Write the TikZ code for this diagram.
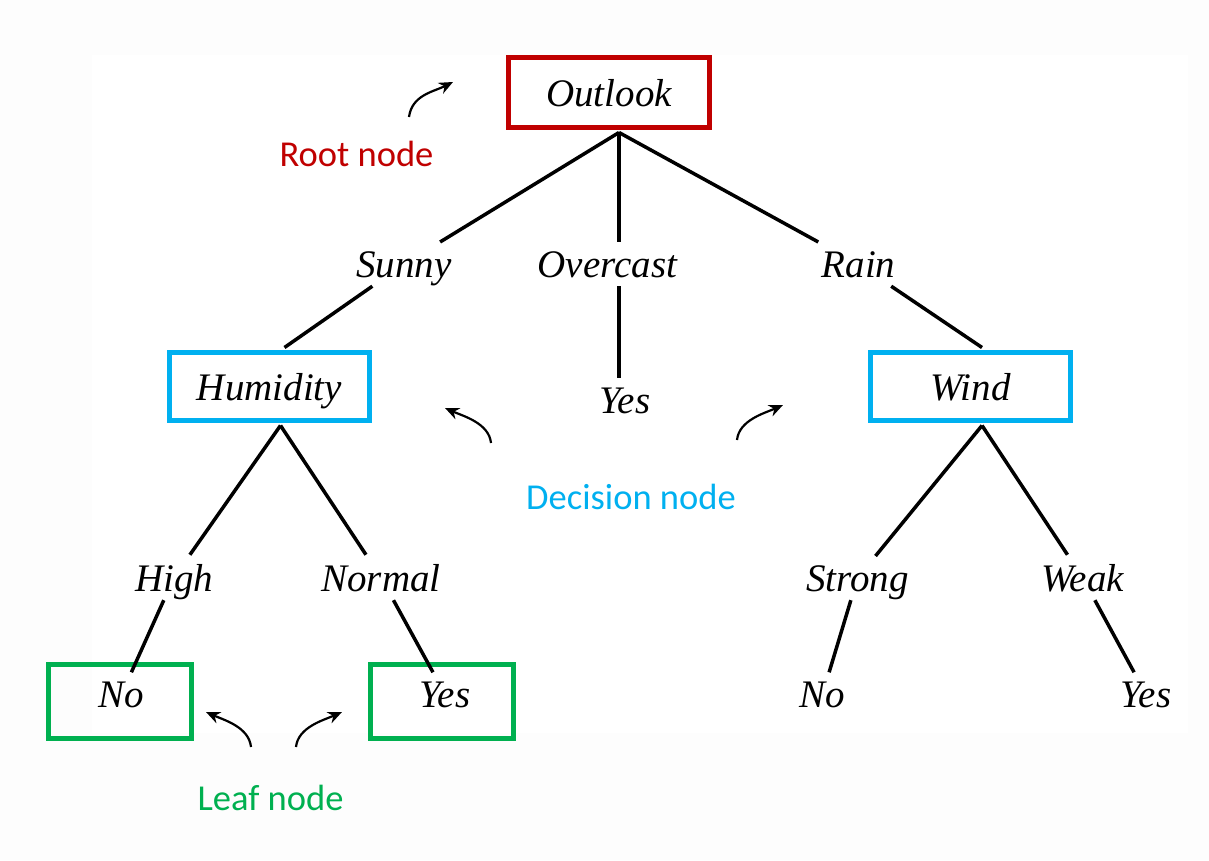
\documentclass[tikz,border=0pt]{standalone}
\usepackage{fontspec}
\usetikzlibrary{arrows.meta,calc}
\newfontfamily\tfont{Liberation Serif}
\newfontfamily\cfont{Carlito}
\definecolor{rootred}{HTML}{C00000}
\definecolor{decblue}{HTML}{00B0F0}
\definecolor{leafgreen}{HTML}{00B050}
\definecolor{marginc}{HTML}{FDFDFD}
\begin{document}
\begin{tikzpicture}[x=1pt,y=-1pt,
  treefont/.style={font=\tfont\itshape\fontsize{39}{47}\selectfont},
  lbl/.style={treefont, inner xsep=6pt, inner ysep=9pt, text depth=0pt, anchor=base},
  boxbase/.style={treefont, draw, line width=5pt, inner sep=0pt, text depth=0pt, minimum height=68pt, minimum width=200pt},
  rootbox/.style={boxbase, draw=rootred, minimum width=201pt, minimum height=70pt},
  decbox/.style={boxbase, draw=decblue},
  leafbox/.style={draw=leafgreen, line width=5pt, inner sep=0pt, minimum width=143pt, minimum height=74pt},
  edge/.style={line width=3.5pt, black},
  callout/.style={font=\cfont\fontsize{36.5}{44}\selectfont, anchor=base, inner sep=0pt},
  arr/.style={line width=2.2pt, -{Stealth[length=14pt,width=12pt]}}
]
\useasboundingbox (0,0) rectangle (1209,860);
\fill[marginc] (0,0) rectangle (1209,860);
\fill[white] (92,55) rectangle (1188,733);

% tree nodes
\node[rootbox] (outlook) at (609,92.5) {Outlook};
\node[decbox] (humidity) at (269.5,386.5) {Humidity};
\node[decbox] (wind) at (970.5,386.5) {Wind};
\node[leafbox] (nobox) at (120,701.5) {};
\node[leafbox] (yesbox) at (442,701.5) {};

\node[lbl] (sunny) at (404,277) {Sunny};
\node[lbl] (overcast) at (607.5,277) {Overcast};
\node[lbl] (rain) at (858.5,277) {Rain};
\node[lbl] (yesmid) at (625,413) {Yes};
\node[lbl] (high) at (174,591) {High};
\node[lbl] (normal) at (381,591) {Normal};
\node[lbl] (strong) at (857.5,591) {Strong};
\node[lbl] (weak) at (1082.5,591) {Weak};
\node[lbl] (nol) at (121.5,707) {No};
\node[lbl] (yesl) at (445,707) {Yes};
\node[lbl] (nor) at (822.5,707) {No};
\node[lbl] (yesr) at (1146,707) {Yes};

% junction points
\coordinate (ob) at ([xshift=10pt,yshift=-2.5pt]outlook.south);
\coordinate (ht) at ([xshift=15pt,yshift=2.5pt]humidity.north);
\coordinate (hb) at ([xshift=11pt,yshift=-2.5pt]humidity.south);
\coordinate (wt) at ([xshift=11.5pt,yshift=2.5pt]wind.north);
\coordinate (wb) at ([xshift=11.5pt,yshift=-2.5pt]wind.south);

% edges
\draw[edge] (ob) -- (sunny);
\draw[edge] (sunny) -- (ht);
\draw[edge] (ob) -- (ob |- overcast.north);
\draw[edge] (overcast.south -| ob) -- (ob |- yesmid.north);
\draw[edge] (ob) -- (rain);
\draw[edge] (rain) -- (wt);
\draw[edge] (hb) -- (high);
\draw[edge] (high) -- (nol);
\draw[edge] (hb) -- (normal);
\draw[edge] (normal) -- (yesl);
\draw[edge] (wb) -- (strong);
\draw[edge] (strong) -- (nor);
\draw[edge] (wb) -- (weak);
\draw[edge] (weak) -- (yesr);

% callouts
\node[callout, text=rootred] (rootlbl) at (356.5,166) {Root node};
\node[callout, text=decblue] (declbl) at (631,509) {Decision node};
\node[callout, text=leafgreen] (leaflbl) at (270.5,810) {Leaf node};

\coordinate (ra1) at (409,117);
\coordinate (ra2) at (453,82);
\draw[arr] (ra1) .. controls +(3,-22) and +(-20,10) .. (ra2);
\coordinate (da1) at (491,443);
\coordinate (da2) at (445,408);
\draw[arr] (da1) .. controls +(-2,-20) and +(18,8) .. (da2);
\coordinate (db1) at (737,440);
\coordinate (db2) at (783,405);
\draw[arr] (db1) .. controls +(2,-20) and +(-18,8) .. (db2);
\coordinate (la1) at (251,747);
\coordinate (la2) at (206,712);
\draw[arr] (la1) .. controls +(-2,-20) and +(18,8) .. (la2);
\coordinate (lb1) at (296,747);
\coordinate (lb2) at (342,712);
\draw[arr] (lb1) .. controls +(2,-20) and +(-18,8) .. (lb2);
\end{tikzpicture}
\end{document}
